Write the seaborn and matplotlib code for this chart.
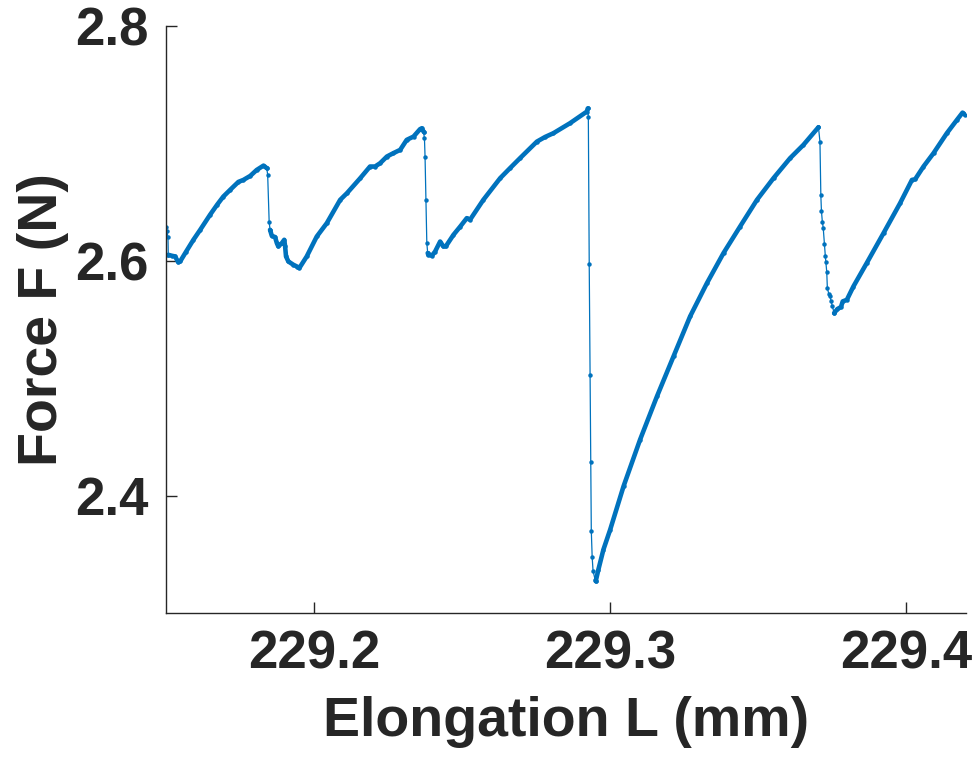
import matplotlib
matplotlib.use('Agg')
import matplotlib.pyplot as plt
import seaborn as sns
import pandas as pd

# --- Data (elongation in mm, force in N) ---
# The trace is split into slow loading branches and fast slip drops
load1_x = [229.1507, 229.1519, 229.1530, 229.1541, 229.1547, 229.1567, 229.1592, 229.1615,
           229.1648, 229.1672, 229.1693, 229.1716, 229.1744, 229.1761, 229.1784, 229.1806,
           229.1829, 229.1840]
load1_y = [2.6051, 2.6043, 2.6037, 2.5987, 2.5994, 2.6077, 2.6179, 2.6264,
           2.6391, 2.6477, 2.6547, 2.6604, 2.6672, 2.6689, 2.6723, 2.6774,
           2.6811, 2.6789]

load2_x = [229.1851, 229.1857, 229.1868, 229.1874, 229.1879, 229.1891, 229.1899, 229.1902,
           229.1905, 229.1913, 229.1930, 229.1942, 229.1950, 229.1975, 229.2009, 229.2043,
           229.2088, 229.2111, 229.2156, 229.2189, 229.2206, 229.2223, 229.2246, 229.2268,
           229.2291, 229.2313, 229.2336, 229.2358, 229.2364, 229.2370]
load2_y = [2.6264, 2.6213, 2.6202, 2.6151, 2.6122, 2.6151, 2.6179, 2.6122,
           2.6037, 2.5994, 2.5966, 2.5951, 2.5938, 2.6037, 2.6207, 2.6321,
           2.6519, 2.6576, 2.6704, 2.6803, 2.6803, 2.6831, 2.6888, 2.6917,
           2.6945, 2.7030, 2.7058, 2.7121, 2.7129, 2.7100]

load3_x = [229.2384, 229.2386, 229.2398, 229.2409, 229.2426, 229.2437, 229.2445, 229.2471,
           229.2494, 229.2516, 229.2527, 229.2572, 229.2629, 229.2663, 229.2696, 229.2753,
           229.2781, 229.2809, 229.2865, 229.2922, 229.2925]
load3_y = [2.6066, 2.6051, 2.6043, 2.6079, 2.6164, 2.6122, 2.6122, 2.6221,
           2.6292, 2.6363, 2.6349, 2.6519, 2.6704, 2.6791, 2.6874, 2.7015,
           2.7055, 2.7087, 2.7172, 2.7271, 2.7298]

load4_x = [229.2952, 229.2961, 229.2978, 229.3001, 229.3046, 229.3102, 229.3159, 229.3215,
           229.3271, 229.3328, 229.3384, 229.3440, 229.3497, 229.3553, 229.3609, 229.3654,
           229.3705]
load4_y = [2.3271, 2.3370, 2.3540, 2.3711, 2.4079, 2.4477, 2.4845, 2.5186,
           2.5526, 2.5810, 2.6066, 2.6292, 2.6519, 2.6704, 2.6874, 2.6987,
           2.7138]

load5_x = [229.3758, 229.3769, 229.3781, 229.3787, 229.3801, 229.3823, 229.3868, 229.3925,
           229.3981, 229.4021, 229.4032, 229.4060, 229.4094, 229.4139, 229.4173, 229.4192,
           229.4201]
load5_y = [2.5555, 2.5589, 2.5606, 2.5654, 2.5668, 2.5781, 2.5980, 2.6236,
           2.6491, 2.6689, 2.6695, 2.6803, 2.6917, 2.7087, 2.7200, 2.7262,
           2.7243]

slip0_x = [229.1500, 229.1502, 229.1506, 229.1507]
slip0_y = [2.6289, 2.6255, 2.6202, 2.6051]
slip1_x = [229.1840, 229.1843, 229.1848, 229.1851]
slip1_y = [2.6789, 2.6732, 2.6334, 2.6264]
slip2_x = [229.2370, 229.2373, 229.2375, 229.2378, 229.2381, 229.2384]
slip2_y = [2.7100, 2.7044, 2.6888, 2.6519, 2.6151, 2.6066]
slip3_x = [229.2925, 229.2927, 229.2930, 229.2933, 229.2935, 229.2937, 229.2940, 229.2943,
           229.2950, 229.2952]
slip3_y = [2.7298, 2.7228, 2.5972, 2.5024, 2.4283, 2.3702, 2.3475, 2.3356,
           2.3285, 2.3271]
slip4_x = [229.3705, 229.3710, 229.3713, 229.3715, 229.3718, 229.3721, 229.3725, 229.3728,
           229.3730, 229.3733, 229.3735, 229.3740, 229.3744, 229.3748, 229.3752, 229.3758]
slip4_y = [2.7138, 2.7015, 2.6557, 2.6426, 2.6334, 2.6283, 2.6142, 2.6045,
           2.5986, 2.5904, 2.5768, 2.5717, 2.5696, 2.5654, 2.5611, 2.5555]

x_ticks = [229.2, 229.3, 229.4]
y_ticks = [2.4, 2.6, 2.8]

# --- Build one long table, keeping the order of the trace ---
order = [('slip', slip0_x, slip0_y), ('load', load1_x, load1_y),
         ('slip', slip1_x, slip1_y), ('load', load2_x, load2_y),
         ('slip', slip2_x, slip2_y), ('load', load3_x, load3_y),
         ('slip', slip3_x, slip3_y), ('load', load4_x, load4_y),
         ('slip', slip4_x, slip4_y), ('load', load5_x, load5_y)]
frames = []
for seg_id, (kind, xs, ys) in enumerate(order):
    frames.append(pd.DataFrame({'elong': xs, 'force': ys, 'kind': kind, 'seg': seg_id}))
df = pd.concat(frames, ignore_index=True)

# --- Style ---
sns.set_theme(style='ticks')
plt.rcParams['font.family'] = ['Liberation Sans', 'DejaVu Sans']
plt.rcParams['font.weight'] = 'bold'
dark = '#262626'
blue = '#0072BD'

fig = plt.figure(figsize=(9.8, 7.67), dpi=100)
ax = fig.add_axes([0.1690, 0.2008, 0.8168, 0.7653])

# dense loading data shows up as a thick band
sns.lineplot(data=df[df['kind'] == 'load'], x='elong', y='force', units='seg',
             estimator=None, sort=False, color=blue, linewidth=3.3, ax=ax)
# whole trace as a thin line with dot markers
sns.lineplot(data=df, x='elong', y='force', estimator=None, sort=False, color=blue,
             linewidth=0.9, marker='o', markersize=3.2, markeredgewidth=0, ax=ax)

ax.set_xlim(229.1498, 229.4204)
ax.set_ylim(2.3, 2.8)
ax.set_xticks(x_ticks)
ax.set_yticks(y_ticks)
ax.set_xticklabels([f'{v:.1f}' for v in x_ticks])
ax.set_yticklabels([f'{v:.1f}' for v in y_ticks])
ax.tick_params(direction='in', length=8, width=1, colors=dark, labelsize=38)
ax.tick_params(axis='x', pad=12)
ax.tick_params(axis='y', pad=12)
for lab in ax.get_xticklabels() + ax.get_yticklabels():
    lab.set_fontweight('bold')
sns.despine(ax=ax)
for side in ['left', 'bottom']:
    ax.spines[side].set_color(dark)
    ax.spines[side].set_linewidth(1)

ax.set_xlabel('Elongation L (mm)', fontsize=40, fontweight='bold', color=dark, labelpad=12)
ax.set_ylabel('Force F (N)', fontsize=40, fontweight='bold', color=dark, labelpad=5)

fig.savefig('out.png', dpi=100)
